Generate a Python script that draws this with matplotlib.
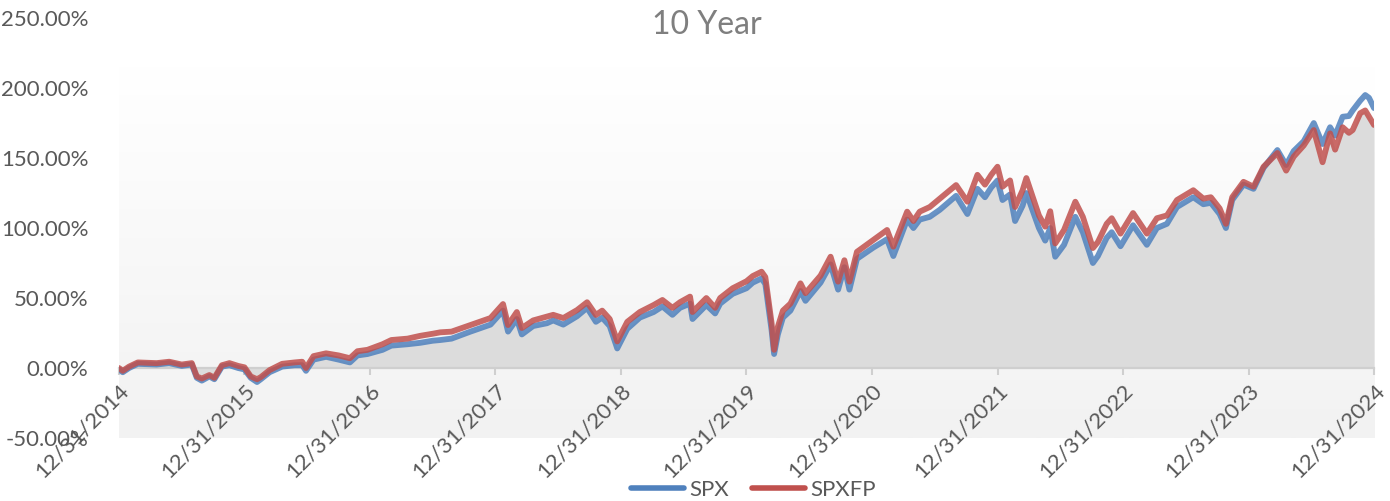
import numpy as np
import matplotlib
matplotlib.use("Agg")
import matplotlib.pyplot as plt
from matplotlib.colors import LinearSegmentedColormap

plt.rcParams["font.family"] = ["Lato", "DejaVu Sans"]

# decimal year: 2015.0 == 12/31/2014
t = [2015.00, 2015.03, 2015.08, 2015.15, 2015.30, 2015.40, 2015.50, 2015.58,
     2015.62, 2015.66, 2015.72, 2015.76, 2015.82, 2015.88, 2015.95, 2016.00,
     2016.05, 2016.10, 2016.13, 2016.20, 2016.30, 2016.40, 2016.46, 2016.49,
     2016.55, 2016.65, 2016.75, 2016.84, 2016.90, 2016.98, 2017.10, 2017.17,
     2017.30, 2017.40, 2017.50, 2017.56, 2017.65, 2017.80, 2017.96, 2018.06,
     2018.10, 2018.17, 2018.21, 2018.30, 2018.41, 2018.46, 2018.54, 2018.65,
     2018.73, 2018.80, 2018.85, 2018.91, 2018.97, 2019.05, 2019.15, 2019.26,
     2019.33, 2019.41, 2019.47, 2019.55, 2019.57, 2019.68, 2019.75, 2019.79,
     2019.89, 2020.00, 2020.05, 2020.12, 2020.15, 2020.20, 2020.22, 2020.25,
     2020.29, 2020.35, 2020.43, 2020.47, 2020.59, 2020.67, 2020.73, 2020.78,
     2020.82, 2020.88, 2021.01, 2021.12, 2021.17, 2021.28, 2021.33, 2021.38,
     2021.46, 2021.54, 2021.67, 2021.76, 2021.84, 2021.90, 2021.95, 2022.00,
     2022.04, 2022.10, 2022.14, 2022.20, 2022.23, 2022.33, 2022.38, 2022.42,
     2022.46, 2022.53, 2022.62, 2022.68, 2022.76, 2022.80, 2022.87, 2022.91,
     2022.98, 2023.08, 2023.19, 2023.27, 2023.35, 2023.43, 2023.56, 2023.64,
     2023.70, 2023.77, 2023.82, 2023.87, 2023.96, 2024.04, 2024.12, 2024.23,
     2024.30, 2024.36, 2024.44, 2024.52, 2024.59, 2024.65, 2024.69, 2024.75,
     2024.80, 2024.83, 2024.89, 2024.93, 2024.96, 2025.00]

spx = [-1, -3, 0, 3, 2.5, 3.5, 1.5, 2.5,
       -7, -9, -6, -8, 1, 2, 0, -1,
       -7, -10, -8, -3, 1, 2, 2, -2,
       6, 8, 6, 4, 9, 10, 13, 16,
       17, 18, 19.5, 20, 21, 26, 31, 41,
       26, 35, 24, 30, 32, 34, 31, 37,
       43, 33, 36, 30, 14, 28, 36, 40,
       44, 38, 43, 46, 35, 45, 39, 46,
       53, 57, 61, 64, 60, 27, 10, 24,
       36, 41, 55, 48, 61, 74, 56, 72,
       56, 78, 86, 92, 80, 106, 100, 106,
       108, 113, 123, 110, 128, 122, 129, 134,
       120, 124, 105, 116, 125, 100, 91, 100,
       79.5, 88, 108, 97, 75, 80, 93, 97,
       87, 102, 88, 100, 103, 115, 122, 117,
       118, 110, 100, 120, 131, 128, 143, 155.7,
       145, 155, 162, 175, 160, 172, 166, 179.5,
       180, 184, 191, 195, 193, 185.7]

spxfp = [0, -2, 1, 4, 3.5, 4.5, 2.5, 3.5,
         -6, -7.5, -5, -7, 2, 3.5, 1.5, 0.5,
         -6, -8, -6.5, -1.5, 3, 4, 4.5, 0,
         8.5, 10.5, 9, 7, 12, 13, 17, 20,
         21, 23, 24.5, 25.5, 26, 30.7, 35.7, 45.7,
         30.7, 40, 28.6, 34, 36.7, 38, 35.7, 41.4,
         47, 37.9, 41, 35, 19, 33, 40, 45,
         48.6, 43, 47, 51, 40, 50, 43, 50,
         57, 62, 65.7, 68.8, 65, 32, 13, 29.5,
         41, 46, 60.5, 53.5, 66, 79.5, 61.7, 77,
         61.7, 83, 91.4, 98.6, 86.7, 111.7, 105, 111.7,
         115, 121, 130.7, 118.8, 138, 131, 138, 143.8,
         129.5, 134, 115, 127, 135.7, 109, 101, 112,
         89, 98.6, 118.8, 108, 85.7, 90, 103, 107,
         96, 110.7, 96, 107, 109, 120, 127, 121,
         122, 114, 103, 122, 133, 129.5, 143.8, 153.6,
         141, 151, 159, 170, 147, 167.6, 156, 172,
         168, 170, 182, 184, 179.5, 173.6]

years = list(range(2015, 2026))
year_labels = [f"12/31/{y - 1}" for y in years]
y_ticks = [-50, 0, 50, 100, 150, 200, 250]

BLUE = "#4F81BD"
RED = "#C0504D"
TXT = "#595959"

fig = plt.figure(figsize=(13.9, 5.01), dpi=100)
ax = fig.add_axes([0.0856, 0.1257, 0.9029, 0.8383])
ax.set_facecolor("none")

# plot-area background: white at top fading to light grey
bg = LinearSegmentedColormap.from_list("bg", ["#f2f2f2", "#ffffff"])
ax.imshow(np.linspace(0, 1, 256).reshape(-1, 1), extent=[2015, 2025, -50, 215.7],
          origin="lower", aspect="auto", cmap=bg, zorder=0)

lo = np.minimum(spx, spxfp)
ax.fill_between(t, 0, lo, color="#dcdcdc", lw=0, zorder=1)

ax.plot(t, spx, color=BLUE, lw=4.2, alpha=0.85, solid_capstyle="round",
        solid_joinstyle="round", label="SPX", zorder=3)
ax.plot(t, spxfp, color=RED, lw=4.2, alpha=0.85, solid_capstyle="round",
        solid_joinstyle="round", label="SPXFP", zorder=4)

ax.set_xlim(2015, 2025)
ax.set_ylim(-50, 250)

for s in ("top", "right", "left"):
    ax.spines[s].set_visible(False)
ax.spines["bottom"].set_position(("data", 0))
ax.spines["bottom"].set_color("#cfcfcf")
ax.spines["bottom"].set_linewidth(1.6)
ax.spines["bottom"].set_zorder(2)

ax.set_xticks(years)
ax.set_xticklabels(year_labels, rotation=45, ha="right", va="top",
                   rotation_mode="anchor", fontsize=16, color=TXT)
ax.tick_params(axis="x", direction="out", length=5, width=1.5, color="#cfcfcf", pad=4)

ax.set_yticks(y_ticks)
ax.set_yticklabels([f"{v:.2f}%" for v in y_ticks], fontsize=16, color=TXT)
ax.tick_params(axis="y", length=0, pad=22)

fig.text(0.5086, 1 - 25 / 501, "10 Year", fontsize=23, color="#7f7f7f",
         ha="center", va="center")

leg = ax.legend(loc="center", bbox_to_anchor=(0.542, 0.022), bbox_transform=fig.transFigure,
                ncol=2, frameon=False, fontsize=16, handlelength=2.4,
                handletextpad=0.25, columnspacing=1.0)
for txt in leg.get_texts():
    txt.set_color(TXT)
for h in leg.legend_handles:
    h.set_alpha(1)
    h.set_linewidth(4)

fig.savefig("out.png", dpi=100)
